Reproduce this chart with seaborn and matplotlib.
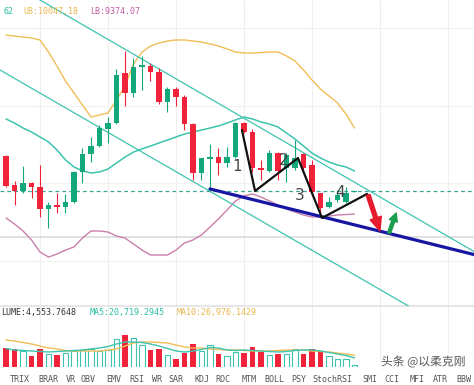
import matplotlib
matplotlib.use("Agg")
import matplotlib.pyplot as plt
import matplotlib.patheffects as pe
import numpy as np
import seaborn as sns

# --- candles (one per bar, price units) ---
opens = [9828, 9601, 9554, 9617, 9585, 9413, 9444, 9429, 9468, 9703, 9844, 9906, 10039, 10086,
         10478, 10321, 10525, 10532, 10485, 10251, 10352, 10290, 10078, 9695, 9808, 9820, 9773, 9820,
         10086, 10016, 9734, 9711, 9851, 9734, 9734, 9844, 9758, 9538, 9429, 9484, 9468, 9546]
highs = [9836, 9632, 9750, 9624, 9758, 9468, 9538, 9531, 9711, 9891, 9977, 10071, 10133, 10509,
         10650, 10595, 10611, 10556, 10517, 10368, 10368, 10305, 10086, 9812, 9922, 9891, 9898, 10094,
         10094, 10039, 9797, 9875, 9859, 9851, 9953, 9851, 9797, 9540, 9507, 9562, 9585, 9554]
lows = [9585, 9444, 9538, 9499, 9351, 9264, 9382, 9382, 9460, 9617, 9781, 9898, 9930, 10080,
        10219, 10290, 10345, 10415, 10235, 10172, 10219, 10031, 9640, 9640, 9578, 9679, 9742, 9815,
        10008, 9703, 9640, 9703, 9640, 9624, 9718, 9718, 9531, 9382, 9421, 9468, 9460, 9546]
closes = [9593, 9554, 9617, 9585, 9413, 9444, 9429, 9468, 9703, 9844, 9906, 10047, 10086, 10462,
          10321, 10525, 10540, 10485, 10251, 10352, 10290, 10078, 9695, 9812, 9818, 9773, 9820, 10086,
          10016, 9734, 9718, 9851, 9711, 9836, 9812, 9734, 9546, 9421, 9468, 9523, 9538, 9554]

# --- bollinger bands ---
boll_ub = [10775, 10767, 10759, 10752, 10736, 10642, 10532, 10415, 10321, 10227, 10133, 10149, 10165, 10266,
           10376, 10548, 10642, 10689, 10712, 10728, 10736, 10736, 10728, 10720, 10705, 10689, 10666, 10642,
           10634, 10634, 10638, 10642, 10642, 10611, 10572, 10501, 10423, 10352, 10298, 10243, 10157, 10047.18]
boll_mid = [10118, 10086, 10047, 10016, 9977, 9938, 9875, 9797, 9742, 9711, 9695, 9703, 9726, 9773,
            9820, 9859, 9883, 9906, 9930, 9953, 9977, 10000, 10016, 10031, 10047, 10063, 10086, 10110,
            10133, 10118, 10094, 10078, 10055, 10008, 9961, 9906, 9851, 9812, 9781, 9758, 9742, 9710.62]
boll_lb = [9343, 9296, 9241, 9171, 9077, 9037, 9061, 9092, 9116, 9186, 9241, 9241, 9233, 9202,
           9186, 9139, 9092, 9053, 9053, 9053, 9092, 9147, 9171, 9210, 9272, 9335, 9405, 9476,
           9515, 9531, 9507, 9476, 9444, 9413, 9390, 9366, 9351, 9351, 9358, 9366, 9370, 9374.07]

# --- volume + moving averages ---
volumes = [44400, 41400, 37500, 25300, 41400, 29900, 27600, 32200, 37500, 39800, 41400, 36800, 39100, 64400,
           74300, 66700, 50600, 39100, 42100, 27600, 18400, 32200, 52900, 36800, 50600, 29900, 25300, 34500,
           32200, 46000, 34500, 27600, 29900, 29900, 41400, 29900, 41400, 34500, 25300, 18400, 18400, 4553.7648]
vol_ma5 = [42550, 39100, 37950, 36800, 35650, 34500, 35650, 36800, 37950, 39100, 41400, 43700, 47150, 52900,
           57500, 57500, 56350, 52900, 48300, 42550, 36800, 34500, 36800, 40250, 44850, 43700, 39100, 37950,
           39100, 37950, 36800, 35650, 34500, 35650, 37950, 39100, 39100, 36800, 33350, 29900, 26450, 20719.2945]
vol_ma10 = [62100, 59800, 56350, 52900, 48300, 43700, 41400, 37950, 36800, 36800, 36800, 36800, 39100, 41400,
            48300, 55200, 57500, 57500, 56350, 55200, 50600, 46000, 43700, 43700, 41400, 40250, 39100, 39100,
            37950, 36800, 36800, 36800, 37950, 39100, 39100, 39100, 36800, 35650, 34500, 32200, 29900, 26976.1429]

# --- hand drawn lines on the chart (bar index, price) ---
chan_upper_x, chan_upper_y = [4.0, 55.1], [11049, 9079]
chan_lower_x, chan_lower_y = [-0.7, 55.1], [10501, 8356]
support_x, support_y = [24.0, 55.1], [9570, 9056]
wave_x = [27.76, 29.3, 34.35, 37.18, 42.47]
wave_y = [10031, 9554, 9812, 9343, 9531]
wave_labels = ["1", "2", "3", "4"]
wave_label_x = [27.2, 32.7, 34.5, 39.3]
wave_label_y = [9742, 9789, 9515, 9546]
arrow_down = [(42.6, 9523), (44.0, 9241)]
arrow_up = [(45.06, 9225), (45.9, 9382)]
last_price = 9554
grey_level = 9194

tabs = ["TRIX", "BRAR", "VR", "OBV", "EMV", "RSI", "WR", "SAR", "KDJ", "ROC", "MTM", "BOLL",
        "PSY", "StochRSI", "SMI", "CCI", "MFI", "ATR", "BBW"]
tab_px = [20, 48, 71, 88, 114, 137, 157, 176, 202, 223, 249, 274, 299, 332, 370, 392, 417, 440, 464]

GREEN = "#13a87b"
RED = "#f0233b"
TEAL = "#3cc4ae"
GOLD = "#f1bd57"
PINK = "#c97fab"

sns.set_theme(style="white")
plt.rcParams["font.family"] = ["DejaVu Sans"]

W, H = 474, 385
fig = plt.figure(figsize=(W / 100, H / 100), dpi=100)
ax = fig.add_axes([0, 79 / H, 1, 306 / H])
axv = fig.add_axes([0, 18 / H, 1, 61 / H])

idx = np.arange(len(opens))
xmin, xmax = -0.706, 55.06

# grid
for a in (ax, axv):
    a.set_xlim(xmin, xmax)
    a.set_xticks([4, 12, 20, 28, 36, 44, 52])
    a.tick_params(length=0, labelbottom=False, labelleft=False)
    a.grid(True, axis="x", color="#efefef", lw=0.8)
    for s in a.spines.values():
        s.set_visible(False)
ax.set_ylim(8654, 11049)
ax.set_yticks([10830, 10219, 9617, 9006])
ax.grid(True, axis="y", color="#f1f1f1", lw=0.8)
ax.axhline(grey_level, color="#d8d8d8", lw=1.1, zorder=1)
ax.axhline(8660, color="#e6e6e6", lw=0.8)

# bollinger
sns.lineplot(x=idx, y=boll_ub, ax=ax, color=GOLD, lw=1.0, zorder=2)
sns.lineplot(x=idx, y=boll_mid, ax=ax, color=TEAL, lw=1.1, zorder=2)
sns.lineplot(x=idx, y=boll_lb, ax=ax, color=PINK, lw=1.0, zorder=2)

# candles
for i in idx:
    o, h, l, c = opens[i], highs[i], lows[i], closes[i]
    col = GREEN if c >= o else RED
    ax.vlines(i, l, h, color=col, lw=0.8, zorder=3)
    lo, hi = min(o, c), max(o, c)
    if hi - lo < 12:
        mid = (lo + hi) / 2
        lo, hi = mid - 6, mid + 6
    ax.bar(i, hi - lo, bottom=lo, width=0.7, color=col, lw=0, zorder=4)

# trend channel + support
sns.lineplot(x=chan_upper_x, y=chan_upper_y, ax=ax, color=TEAL, lw=0.9, zorder=2)
sns.lineplot(x=chan_lower_x, y=chan_lower_y, ax=ax, color=TEAL, lw=0.9, zorder=2)
ax.axhline(last_price, color="#3aa596", lw=0.9, ls=(0, (3, 2.5)), zorder=2)
ax.plot(support_x, support_y, color="#1616a3", lw=2.3, zorder=5, solid_capstyle="round")
ax.plot(wave_x, wave_y, color="#111111", lw=1.6, zorder=6)
for t, x, y in zip(wave_labels, wave_label_x, wave_label_y):
    ax.text(x, y, t, fontsize=11, color="#444444", ha="center", va="center", zorder=7)
ax.annotate("", xy=arrow_down[1], xytext=arrow_down[0], zorder=7,
            arrowprops=dict(arrowstyle="simple,head_length=0.7,head_width=0.6,tail_width=0.2",
                            color="#e51a2c", mutation_scale=14, shrinkA=0, shrinkB=0))
ax.annotate("", xy=arrow_up[1], xytext=arrow_up[0], zorder=7,
            arrowprops=dict(arrowstyle="simple,head_length=0.6,head_width=0.6,tail_width=0.22",
                            color="#1c9e4e", mutation_scale=10, shrinkA=0, shrinkB=0))

# volume
axv.set_ylim(0, 140300)
axv.axhline(140300, color="#e6e6e6", lw=0.8)
for i in idx:
    if closes[i] >= opens[i]:
        axv.bar(i, volumes[i], width=0.6, facecolor="none", edgecolor=TEAL, lw=0.8)
    else:
        axv.bar(i, volumes[i], width=0.6, color=RED, lw=0)
sns.lineplot(x=idx, y=vol_ma10, ax=axv, color=GOLD, lw=1.0)
sns.lineplot(x=idx, y=vol_ma5, ax=axv, color=TEAL, lw=1.0)

# header texts (only the part visible in the screenshot)
mono = dict(family="DejaVu Sans Mono", fontsize=6, va="center")
fig.text(3 / W, 1 - 11 / H, "62", color="#2bbfa4", ha="left", **mono)
fig.text(23 / W, 1 - 11 / H, "UB:10047.18", color="#e9b64c", ha="left", **mono)
fig.text(90 / W, 1 - 11 / H, "LB:9374.07", color="#c25aa3", ha="left", **mono)
fig.text(1 / W, 1 - 313 / H, "LUME:4,553.7648", color="#333333", ha="left", **mono)
fig.text(90 / W, 1 - 313 / H, "MA5:20,719.2945", color="#2bbfa4", ha="left", **mono)
fig.text(177 / W, 1 - 313 / H, "MA10:26,976.1429", color="#e9b64c", ha="left", **mono)

for t, x in zip(tabs, tab_px):
    fig.text(x / W, 1 - 379 / H, t, color="#555555", ha="center", **mono)

fig.text(423 / W, 1 - 362 / H, "头条 @以柔克刚", color="#555555", ha="center", va="center",
         fontsize=8.5, family=["Noto Sans CJK SC", "DejaVu Sans"],
         path_effects=[pe.withStroke(linewidth=2, foreground="white")])

fig.savefig("out.png", dpi=100)
